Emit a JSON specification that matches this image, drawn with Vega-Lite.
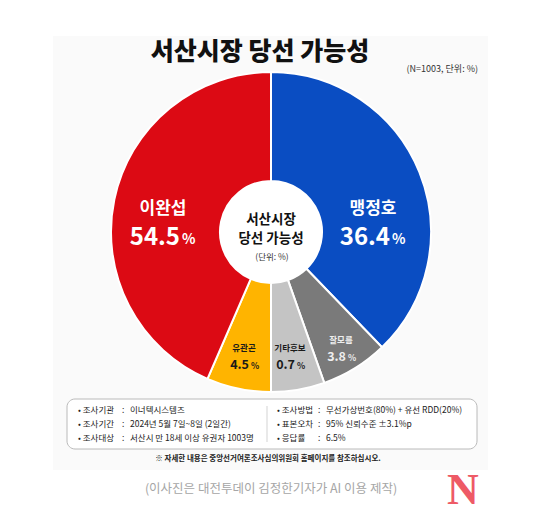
{
  "$schema": "https://vega.github.io/schema/vega-lite/v6.json",
  "width": 540,
  "height": 464,
  "padding": {"left": 1, "top": 0, "right": 0, "bottom": 56},
  "autosize": "none",
  "background": "white",
  "title": {"text": "서산시장 당선 가능성", "offset": -85, "dx": -11, "anchor": "middle", "fontSize": 25, "fontWeight": 900, "font": "Noto Sans CJK KR", "color": "#111111", "baseline": "alphabetic"},
  "params": [
    {"name": "labelX", "expr": "{'맹정호': 372, '이완섭': 162, '잘모름': 340, '기타후보': 289, '유관곤': 243}"},
    {"name": "labelY", "expr": "{'맹정호': 209, '이완섭': 209, '잘모름': 340, '기타후보': 348, '유관곤': 348}"}
  ],
  "datasets": {
    "results": [
      {"rank": 1, "name": "맹정호", "pct": "36.4", "drawn": 37.8},
      {"rank": 2, "name": "잘모름", "pct": "3.8", "drawn": 6.8},
      {"rank": 3, "name": "기타후보", "pct": "0.7", "drawn": 5.4},
      {"rank": 4, "name": "유관곤", "pct": "4.5", "drawn": 6.5},
      {"rank": 5, "name": "이완섭", "pct": "54.5", "drawn": 43.5}
    ],
    "notes": [
      {"column": "left", "line": 1, "item": "• 조사기관", "detail": "이너텍시스템즈"},
      {"column": "left", "line": 2, "item": "• 조사기간", "detail": "2024년 5월 7일~8일 (2일간)"},
      {"column": "left", "line": 3, "item": "• 조사대상", "detail": "서산시 만 18세 이상 유권자 1003명"},
      {"column": "right", "line": 1, "item": "• 조사방법", "detail": "무선가상번호(80%) + 유선 RDD(20%)"},
      {"column": "right", "line": 2, "item": "• 표본오차", "detail": "95% 신뢰수준 ±3.1%p"},
      {"column": "right", "line": 3, "item": "• 응답률", "detail": "6.5%"}
    ]
  },
  "data": {"name": "results"},
  "resolve": {"scale": {"x": "independent", "y": "independent", "color": "independent"}},
  "config": {"view": {"stroke": null}, "text": {"font": "Noto Sans CJK KR"}},
  "layer": [
    {
      "data": {"values": [{"panel": "background"}]},
      "mark": {"type": "rect", "fill": "#fafafa"},
      "encoding": {"x": {"value": 52}, "x2": {"value": 487}, "y": {"value": 36}, "y2": {"value": 470}}
    },
    {
      "mark": {"type": "arc", "radius": 160, "radius2": 51, "stroke": "white", "strokeWidth": 2},
      "encoding": {
        "theta": {"field": "drawn", "type": "quantitative", "stack": true, "scale": {"domain": [0, 100]}},
        "order": {"field": "rank"},
        "color": {"field": "name", "type": "nominal", "legend": null,
          "scale": {"domain": ["맹정호", "잘모름", "기타후보", "유관곤", "이완섭"], "range": ["#0a4dc2", "#7a7a7a", "#c4c4c4", "#ffb400", "#dc0a14"]}}
      }
    },
    {
      "data": {"values": [{"panel": "hole"}]},
      "mark": {"type": "arc", "radius": 51, "theta": 0, "theta2": 6.2832, "fill": "white"}
    },
    {
      "transform": [{"filter": "datum.rank == 1 || datum.rank == 5"}],
      "mark": {"type": "text", "color": "white", "fontSize": 17, "fontWeight": "bold", "x": {"expr": "labelX[datum.name]"}, "y": {"expr": "labelY[datum.name]"}},
      "encoding": {"text": {"field": "name"}}
    },
    {
      "transform": [{"filter": "datum.rank == 1 || datum.rank == 5"}],
      "mark": {"type": "text", "color": "white", "fontSize": 24, "fontWeight": "bold", "align": "right", "x": {"expr": "labelX[datum.name] + 17"}, "y": {"expr": "labelY[datum.name] + 29"}},
      "encoding": {"text": {"field": "pct"}}
    },
    {
      "transform": [{"filter": "datum.rank == 1 || datum.rank == 5"}],
      "mark": {"type": "text", "color": "white", "fontSize": 14, "fontWeight": "bold", "align": "left", "text": "%", "x": {"expr": "labelX[datum.name] + 19"}, "y": {"expr": "labelY[datum.name] + 31"}}
    },
    {
      "transform": [{"filter": "datum.rank >= 2 && datum.rank <= 4"}],
      "mark": {"type": "text", "fontSize": 8.5, "fontWeight": "bold", "x": {"expr": "labelX[datum.name]"}, "y": {"expr": "labelY[datum.name]"}},
      "encoding": {
        "text": {"field": "name"},
        "color": {"condition": {"test": "datum.rank == 2", "value": "#eeeeee"}, "value": "#1a1a1a"}
      }
    },
    {
      "transform": [{"filter": "datum.rank >= 2 && datum.rank <= 4"}],
      "mark": {"type": "text", "fontSize": 12.5, "fontWeight": "bold", "align": "right", "x": {"expr": "labelX[datum.name] + 5"}, "y": {"expr": "labelY[datum.name] + 17"}},
      "encoding": {
        "text": {"field": "pct"},
        "color": {"condition": {"test": "datum.rank == 2", "value": "#eeeeee"}, "value": "#1a1a1a"}
      }
    },
    {
      "transform": [{"filter": "datum.rank >= 2 && datum.rank <= 4"}],
      "mark": {"type": "text", "fontSize": 8.5, "fontWeight": "bold", "align": "left", "text": "%", "x": {"expr": "labelX[datum.name] + 7"}, "y": {"expr": "labelY[datum.name] + 18"}},
      "encoding": {
        "color": {"condition": {"test": "datum.rank == 2", "value": "#eeeeee"}, "value": "#1a1a1a"}
      }
    },
    {
      "data": {"values": [{"line": "서산시장", "row": 1}, {"line": "당선 가능성", "row": 2}]},
      "mark": {"type": "text", "fontSize": 13.5, "fontWeight": "bold", "color": "#111111"},
      "encoding": {
        "text": {"field": "line"},
        "x": {"value": 270},
        "y": {"field": "row", "type": "ordinal", "axis": null, "scale": {"type": "point", "padding": 0, "range": [220, 239]}}
      }
    },
    {
      "data": {"values": [{"line": "(단위: %)"}]},
      "mark": {"type": "text", "fontSize": 8.5, "color": "#333333"},
      "encoding": {"text": {"field": "line"}, "x": {"value": 271}, "y": {"value": 257}}
    },
    {
      "data": {"values": [{"line": "(N=1003, 단위: %)"}]},
      "mark": {"type": "text", "fontSize": 9, "color": "#333333", "align": "right"},
      "encoding": {"text": {"field": "line"}, "x": {"value": 477}, "y": {"value": 69}}
    },
    {
      "data": {"values": [{"panel": "box"}]},
      "mark": {"type": "rect", "fill": "white", "stroke": "#a8a8a8", "strokeWidth": 0.8, "cornerRadius": 8},
      "encoding": {"x": {"value": 66}, "x2": {"value": 476}, "y": {"value": 399}, "y2": {"value": 449}}
    },
    {
      "data": {"values": [{"panel": "divider"}]},
      "mark": {"type": "rule", "color": "#c8c8c8", "strokeWidth": 0.8},
      "encoding": {"x": {"value": 266}, "y": {"value": 406}, "y2": {"value": 442}}
    },
    {
      "data": {"name": "notes"},
      "mark": {"type": "text", "fontSize": 8.5, "align": "left", "color": "#222222"},
      "encoding": {
        "text": {"field": "item"},
        "x": {"field": "column", "type": "nominal", "axis": null, "scale": {"type": "point", "padding": 0, "domain": ["left", "right"], "range": [77, 276]}},
        "y": {"field": "line", "type": "ordinal", "axis": null, "scale": {"type": "point", "padding": 0, "range": [410, 438]}}
      }
    },
    {
      "data": {"name": "notes"},
      "mark": {"type": "text", "fontSize": 8.5, "align": "left", "color": "#222222", "text": ":"},
      "encoding": {
        "x": {"field": "column", "type": "nominal", "axis": null, "scale": {"type": "point", "padding": 0, "domain": ["left", "right"], "range": [121, 317]}},
        "y": {"field": "line", "type": "ordinal", "axis": null, "scale": {"type": "point", "padding": 0, "range": [410, 438]}}
      }
    },
    {
      "data": {"name": "notes"},
      "mark": {"type": "text", "fontSize": 8.5, "align": "left", "color": "#222222"},
      "encoding": {
        "text": {"field": "detail"},
        "x": {"field": "column", "type": "nominal", "axis": null, "scale": {"type": "point", "padding": 0, "domain": ["left", "right"], "range": [129, 325]}},
        "y": {"field": "line", "type": "ordinal", "axis": null, "scale": {"type": "point", "padding": 0, "range": [410, 438]}}
      }
    },
    {
      "data": {"values": [{"line": "※ 자세한 내용은 중앙선거여론조사심의위원회 홈페이지를 참조하십시오."}]},
      "mark": {"type": "text", "fontSize": 7.5, "fontWeight": "bold", "color": "#222222"},
      "encoding": {"text": {"field": "line"}, "x": {"value": 267}, "y": {"value": 459}}
    },
    {
      "data": {"values": [{"line": "(이사진은 대전투데이 김정한기자가 AI 이용 제작)"}]},
      "mark": {"type": "text", "fontSize": 12.5, "color": "#a6a6a6"},
      "encoding": {"text": {"field": "line"}, "x": {"value": 270}, "y": {"value": 489}}
    },
    {
      "data": {"values": [{"line": "N"}]},
      "mark": {"type": "text", "fontSize": 44, "fontWeight": "bold", "font": "Liberation Serif", "color": "#ee5a66"},
      "encoding": {"text": {"field": "line"}, "x": {"value": 462}, "y": {"value": 491}}
    }
  ]
}
